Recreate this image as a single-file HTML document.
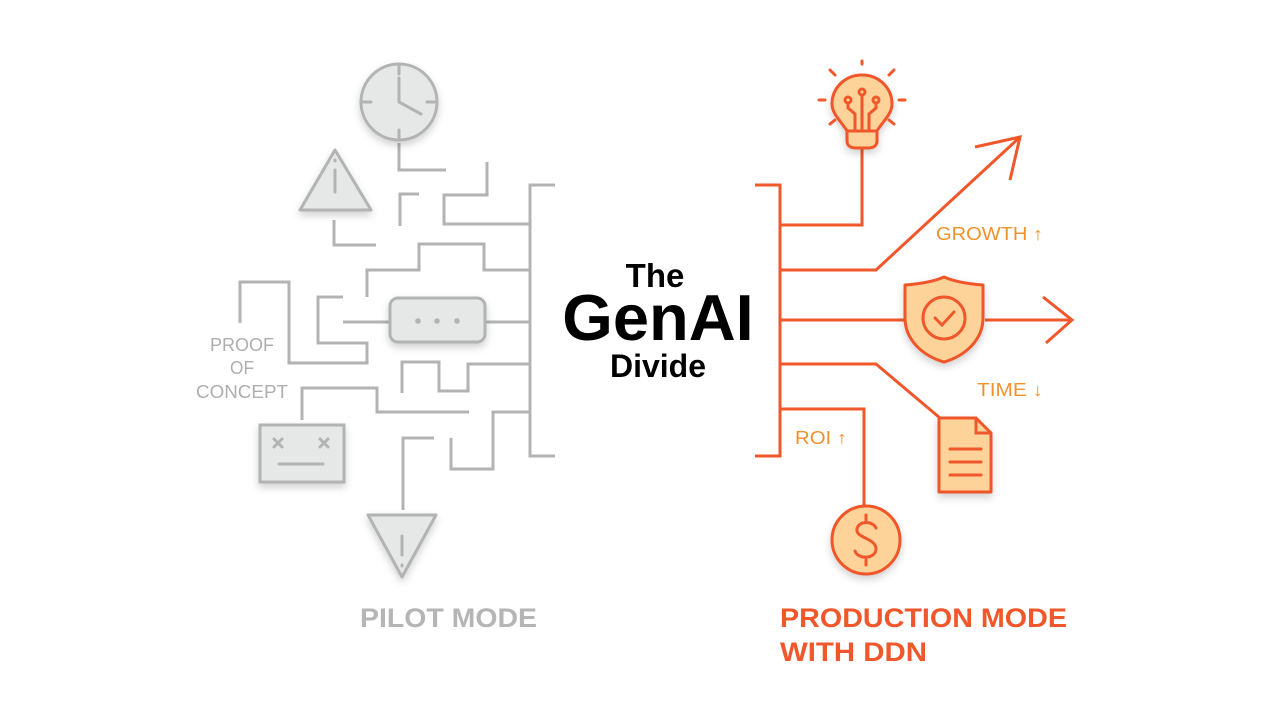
<!DOCTYPE html>
<html><head><meta charset="utf-8"><style>
html,body{margin:0;padding:0;background:#fff;}
svg{display:block;}
</style></head><body>
<svg width="1280" height="720" viewBox="0 0 1280 720" xmlns="http://www.w3.org/2000/svg" font-family="Liberation Sans, sans-serif">
<defs>
<filter id="sh" x="-30%" y="-30%" width="160%" height="160%"><feDropShadow dx="0" dy="4" stdDeviation="4" flood-color="#000" flood-opacity="0.18"/></filter>
</defs>
<!-- LEFT maze -->
<g fill="none" stroke="#b3b3b3" stroke-width="3" stroke-linecap="butt" stroke-linejoin="miter">
<path d="M555 185 H530 V456 H555"/>
<path d="M399 143 V170 H446"/>
<path d="M334 220 V245 H376"/>
<path d="M400 226 V194 H419"/>
<path d="M487 162 V195 H444 V224 H530"/>
<path d="M367 297 V270 H419 V244 H484 V270 H530"/>
<path d="M343 322 H390 M485 322 H530"/>
<path d="M343 297 H318 V343 H367 V363 H289 V282 H240 V323"/>
<path d="M402 393 V362 H439 V391 H468 V364 H529"/>
<path d="M302 420 V388 H377 V412 H469"/>
<path d="M434 438 H403 V510"/>
<path d="M451 438 V469 H493 V412 H529"/>
</g>
<g stroke="#b3b3b3" stroke-width="3" fill="#e6e7e7" filter="url(#sh)">
<circle cx="399" cy="102" r="38"/>
<path d="M335 150 L300 210 L371 210 Z" stroke-linejoin="round"/>
<rect x="390" y="298" width="95" height="44" rx="8"/>
<rect x="260" y="425" width="84" height="57"/>
<path d="M368 515 L436 515 L402 577 Z" stroke-linejoin="round"/>
</g>
<g stroke="#b3b3b3" stroke-width="3" fill="none" stroke-linecap="round">
<path d="M399 66 V74 M399 130 V138 M363 102 H371 M427 102 H435"/>
<path d="M399 78 V102 L421 114"/>
<path d="M335 170 V192 M335 160 V161"/>
<path d="M402 536 V555 M402 565 V566"/>
<path d="M274 439 l8 8 M282 439 l-8 8 M320 439 l8 8 M328 439 l-8 8 M279 464 H323"/>
</g>
<g fill="#b3b3b3"><circle cx="418" cy="321" r="2.8"/><circle cx="437" cy="321" r="2.8"/><circle cx="457" cy="321" r="2.8"/></g>
<g fill="#aeaeae" font-size="18">
<text x="210" y="351" textLength="64" lengthAdjust="spacingAndGlyphs">PROOF</text>
<text x="230" y="374" textLength="24" lengthAdjust="spacingAndGlyphs">OF</text>
<text x="196" y="398" textLength="92" lengthAdjust="spacingAndGlyphs">CONCEPT</text>
</g>
<text x="360" y="627" font-size="27" font-weight="bold" fill="#b5b5b5" textLength="177" lengthAdjust="spacingAndGlyphs">PILOT MODE</text>
<!-- center -->
<g font-weight="bold" fill="#000" text-anchor="middle">
<text x="655" y="287" font-size="33">The</text>
<text x="658" y="340" font-size="65">GenAI</text>
<text x="658" y="377" font-size="32">Divide</text>
</g>
<!-- RIGHT -->
<g fill="none" stroke="#f0572a" stroke-width="3" stroke-linejoin="miter">
<path d="M755 185 H780 V456 H755"/>
<path d="M780 225 H862 V147"/>
<path d="M780 270 H876 L1020 137 M975 147 L1020 137 L1010 180"/>
<path d="M780 320 H905 M985 320 H1072 M1043 297 L1072 320 L1046 343"/>
<path d="M780 364 H876 L940 418"/>
<path d="M780 409 H864 V505"/>
</g>
<g stroke="#f0572a" stroke-width="3" fill="#fdd39a" filter="url(#sh)" stroke-linejoin="round">
<path d="M862 75 C845 75 832 88 832 104 C832 114 841 121 847 131 V141 C847 146 851 148 856 148 H868 C873 148 877 146 877 141 V131 C883 121 892 114 892 104 C892 88 879 75 862 75 Z"/>
<path d="M944 277 C955 282 970 284 983 285 V318 C983 340 965 356 944 362 C923 356 905 340 905 318 V285 C918 284 933 282 944 277 Z"/>
<path d="M939 418 H976 L991 433 V492 H939 Z"/>
<circle cx="866" cy="540" r="34"/>
</g>
<g stroke="#f0572a" stroke-width="3" fill="none" stroke-linecap="round">
<path d="M862 61 V64 M830 70 l5 5 M894 70 l-5 5 M819 100 H825 M899 100 H905 M830 124 l5 -4 M894 124 l-5 -4"/>
<path d="M847 131 H877"/>
<circle cx="848" cy="100" r="3"/><circle cx="862" cy="92" r="3"/><circle cx="876" cy="100" r="3"/>
<path d="M862 95 V131 M848 103 V108 L855 114 V131 M876 103 V108 L869 114 V131"/>
<circle cx="944" cy="318" r="21"/>
<path d="M935 318 L942 325 L954 312"/>
<path d="M976 418 V433 H991"/>
<path d="M950 449 H981 M950 462 H981 M950 475 H981"/>
<path d="M876 528 C873 521 859 520 857 529 C855 538 876 538 876 549 C876 559 858 560 855 551 M866 515 V520 M866 560 V565"/>
</g>
<g fill="#f0922b" font-size="18">
<text x="936" y="240" textLength="107" lengthAdjust="spacingAndGlyphs">GROWTH ↑</text>
<text x="977" y="396" textLength="66" lengthAdjust="spacingAndGlyphs">TIME ↓</text>
<text x="795" y="444" textLength="52" lengthAdjust="spacingAndGlyphs">ROI ↑</text>
</g>
<g fill="#f0572a" font-size="27" font-weight="bold">
<text x="780" y="627" textLength="287" lengthAdjust="spacingAndGlyphs">PRODUCTION MODE</text>
<text x="780" y="661" textLength="147" lengthAdjust="spacingAndGlyphs">WITH DDN</text>
</g>
</svg>
</body></html>
